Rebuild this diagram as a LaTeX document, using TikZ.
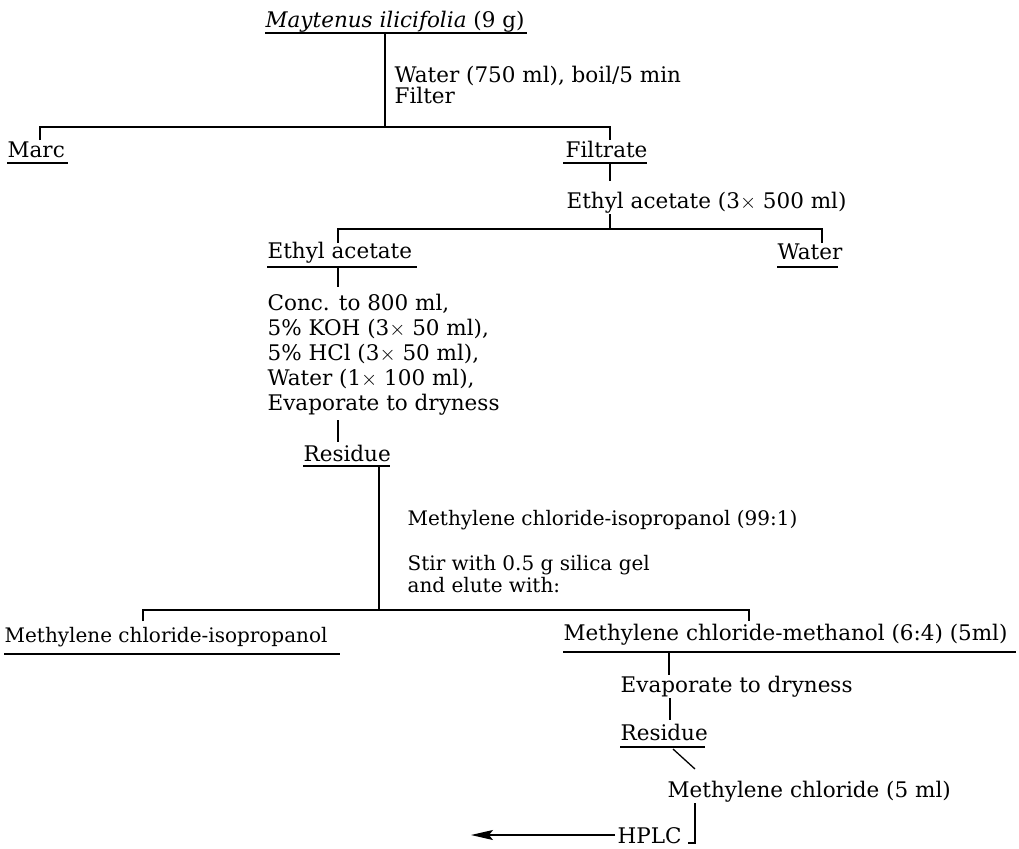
\documentclass[tikz,border=0pt]{standalone}
\usepackage{fontspec}
\setmainfont{DejaVu Serif}
\usetikzlibrary{arrows.meta}
\newcommand\myfs{\fontsize{21.5}{25}\selectfont}
\newcommand\myfss{\fontsize{20}{22}\selectfont}
\begin{document}
\begin{tikzpicture}[x=1pt,y=-1pt,line width=1.3pt,
  lbl/.style={anchor=base west,inner sep=0pt,font=\myfs},
  lbls/.style={anchor=base west,inner sep=0pt,font=\myfss},
  blk/.style={anchor=north west,inner sep=0pt,font=\myfs,align=left},
  blks/.style={anchor=north west,inner sep=0pt,font=\myfss,align=left},
  ul/.style={line width=1.3pt},
  conn/.style={line width=1.3pt}]
\useasboundingbox (0,0) rectangle (1019,848);
% level 1
\node[lbl] (may) at (265,28) {\textit{Maytenus ilicifolia} (9 g)};
\coordinate (u0a) at (265,33); \coordinate (u0b) at (527,33);
\draw[ul] (u0a) -- (u0b);
\coordinate (j1) at (385,33);
\coordinate (b1) at (385,127);
\node[lbl] (w750) at (394,83) {Water (750 ml), boil/5 min};
\node[lbl] (filt) at (394,104) {Filter};
\draw[conn] (j1) -- (b1);
% level 2
\node[lbl] (marc) at (7,157) {Marc};
\draw[ul] (7,163) -- (68,163);
\node[lbl] (filtrate) at (565,157) {Filtrate};
\draw[ul] (563,163) -- (647,163);
\coordinate (m1) at (40,127);
\coordinate (f1) at (610,127);
\draw[conn] (40,140) -- (m1) -- (f1) -- (610,140);
% level 3
\coordinate (f2) at (610,163);
\node[lbl] (ea3) at (566,208) {Ethyl acetate (3$\times$\ 500 ml)};
\draw[conn] (f2) -- (610,181);
\coordinate (b2) at (610,229);
\draw[conn] (610,214) -- (b2);
\coordinate (e1) at (338,229);
\coordinate (w1) at (822,229);
\draw[conn] (338,243) -- (e1) -- (w1) -- (822,243);
\node[lbl] (ea) at (267,258) {Ethyl acetate};
\draw[ul] (267,267) -- (417,267);
\node[lbl] (water) at (777,259) {Water};
\draw[ul] (777,267) -- (838,267);
\draw[conn] (338,267) -- (338,287);
\node[blk] (wash) at (267,294) {Conc. to 800 ml,\\5\% KOH (3$\times$\ 50 ml),\\5\% HCl (3$\times$\ 50 ml),\\Water (1$\times$\ 100 ml),\\Evaporate to dryness};
\draw[conn] (338,420) -- (338,442);
\node[lbl] (res1) at (303,461) {Residue};
\draw[ul] (303,466) -- (390,466);
\coordinate (r1) at (379,466);
\coordinate (b3) at (379,610);
\draw[conn] (r1) -- (b3);
\node[lbls] (mci) at (407,525) {Methylene chloride-isopropanol (99:1)};
\node[blks] (stir) at (407,555) {Stir with 0.5 g silica gel\\and elute with:};
\coordinate (l3) at (143,610);
\coordinate (r3) at (749,610);
\draw[conn] (143,621) -- (l3) -- (r3) -- (749,621);
\node[lbls] (mcip) at (4,642) {Methylene chloride-isopropanol};
\draw[ul] (4,654) -- (340,654);
\node[lbl] (mcm) at (563,640) {Methylene chloride-methanol (6:4) (5ml)};
\draw[ul] (563,652) -- (1016,652);
\draw[conn] (669,653) -- (669,675);
\node[lbl] (evap) at (620,692) {Evaporate to dryness};
\draw[conn] (670,698) -- (670,720);
\node[lbl] (res2) at (620,740) {Residue};
\draw[ul] (620,747) -- (705,747);
\draw[conn] (673,749) -- (695,769);
\node[lbl] (mc5) at (667,797) {Methylene chloride (5 ml)};
\node[lbl] (hplc) at (617,843) {HPLC};
\coordinate (h1) at (695,803);
\coordinate (h2) at (695,843);
\draw[conn] (h1) -- (h2) -- (688,843);
\coordinate (arr) at (471,835);
\draw[conn,-{Stealth[length=22pt,width=10pt,inset=4pt]}] ([xshift=-2pt]hplc.west |- arr) -- (arr);
\end{tikzpicture}
\end{document}
